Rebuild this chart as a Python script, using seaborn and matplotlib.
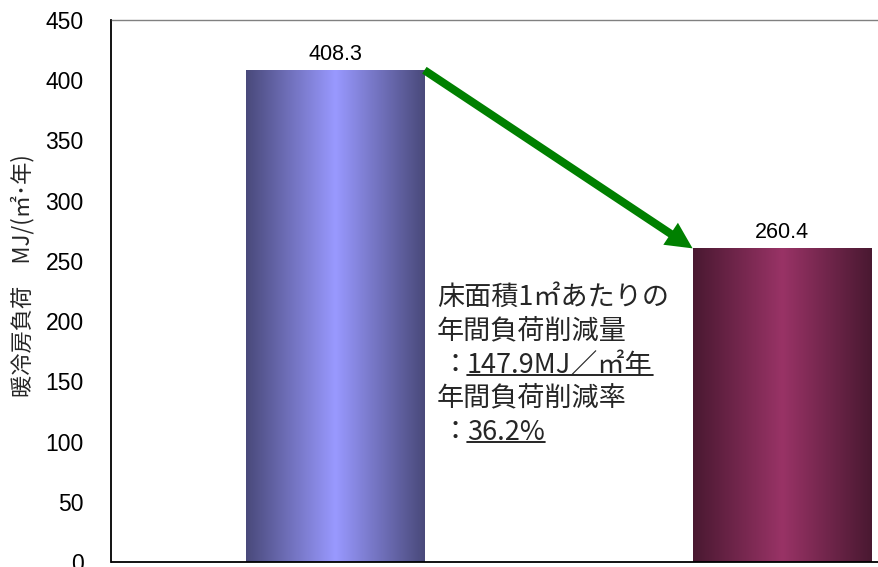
import numpy as np
import pandas as pd
import matplotlib
matplotlib.use("Agg")
import matplotlib.pyplot as plt
import seaborn as sns
from matplotlib.colors import to_rgb
from matplotlib.lines import Line2D

# Annual heating/cooling load per floor area
categories = ["改修前", "改修後"]
load_values = [408.3, 260.4]
bar_colors = ["#9999FF", "#993366"]
y_ticks = [0, 50, 100, 150, 200, 250, 300, 350, 400, 450]
y_label = "暖冷房負荷　MJ/(㎡･年)"

reduction = load_values[0] - load_values[1]
reduction_rate = reduction / load_values[0] * 100
note_head = ["床面積1㎡あたりの", "年間負荷削減量"]
note_amount = f"{reduction:.1f}MJ／㎡年"
note_rate_head = "年間負荷削減率"
note_rate = f"{reduction_rate:.1f}%"

sns.set_style("white")
plt.rcParams["font.family"] = ["Liberation Sans", "Noto Sans CJK JP", "DejaVu Sans"]
JP = ["Noto Sans CJK JP", "DejaVu Sans"]

W, H = 879, 567
fig = plt.figure(figsize=(W / 100, H / 100), dpi=100)
ax = fig.add_axes([111.5 / W, 5 / H, 894 / W, 542 / H])


def px(x, y):
    """Figure-fraction coordinates from pixel position measured from the top-left."""
    return x / W, 1 - y / H


df = pd.DataFrame({"category": categories, "load": load_values})
sns.barplot(data=df, x="category", y="load", hue="category", palette=bar_colors,
            order=categories, hue_order=categories, width=0.4, saturation=1,
            legend=False, ax=ax)

# Horizontal shaded fill: dark edges, light centre
u = np.linspace(0, 1, 256)
t = 1 - np.abs(2 * u - 1)
for patch, base in zip(ax.patches, bar_colors):
    base = np.array(to_rgb(base))
    edge = base * 0.48
    grad = edge[None, :] + (base - edge)[None, :] * t[:, None]
    img = grad[None, :, :]
    x0, y0 = patch.get_x(), patch.get_y()
    w, h = patch.get_width(), patch.get_height()
    im = ax.imshow(img, extent=[x0, x0 + w, y0, y0 + h], aspect="auto",
                   origin="lower", zorder=patch.get_zorder(), interpolation="bilinear")
    im.set_clip_path(patch)
    patch.set_facecolor("none")
    patch.set_edgecolor("none")

ax.set_xlim(-0.5, 1.5)
ax.set_ylim(0, 450)
ax.set_yticks(y_ticks)
ax.set_xticks([-0.5, 0.5, 1.5])
ax.set_xlabel("")
ax.tick_params(axis="x", direction="in", length=5.8, width=1, labelbottom=False, colors="black")
ax.tick_params(axis="y", direction="in", length=5.8, width=1, pad=20, labelsize=16.5,
               colors="black")

for side in ("left", "bottom"):
    ax.spines[side].set_color("black")
    ax.spines[side].set_linewidth(1.3)
for side in ("top", "right"):
    ax.spines[side].set_color("#808080")
    ax.spines[side].set_linewidth(1.0)

ax.set_ylabel(y_label, fontsize=16, family=JP, va="center")
ax.yaxis.set_label_coords((23 - 111.5) / 894, (562 - 276) / 542)

# Value labels above bars
for i, v in enumerate(load_values):
    ax.annotate(f"{v:.1f}", (i, v), xytext=(0, 7.5), textcoords="offset points",
                ha="center", va="baseline", fontsize=15.5, color="black")

# Trend arrow from the first bar to the second
ax.annotate("", xy=(0.8, load_values[1]), xytext=(0.2, load_values[0]),
            arrowprops=dict(arrowstyle="simple,head_length=1.9,head_width=1.9,tail_width=0.58",
                            mutation_scale=10, color="#008000", lw=0,
                            shrinkA=0, shrinkB=0))

# Reduction note
fs = 19.5
line_y = [297, 331, 365, 398, 432]
fig.text(*px(437, line_y[0]), note_head[0], fontsize=fs, family=JP, ha="left", va="center")
fig.text(*px(437, line_y[1]), note_head[1], fontsize=fs, family=JP, ha="left", va="center")
fig.text(*px(455, line_y[2]), "：", fontsize=fs, family=JP, ha="center", va="center")
t_amount = fig.text(*px(467, line_y[2]), note_amount, fontsize=fs, family=JP,
                    ha="left", va="center")
fig.text(*px(437, line_y[3]), note_rate_head, fontsize=fs, family=JP, ha="left", va="center")
fig.text(*px(455, line_y[4]), "：", fontsize=fs, family=JP, ha="center", va="center")
t_rate = fig.text(*px(467, line_y[4]), note_rate, fontsize=fs, family=JP,
                  ha="left", va="center")

fig.canvas.draw()
renderer = fig.canvas.get_renderer()
for txt, ly in ((t_amount, line_y[2]), (t_rate, line_y[4])):
    bb = txt.get_window_extent(renderer)
    yy = 1 - (ly + 10) / H
    fig.add_artist(Line2D([bb.x0 / W, bb.x1 / W], [yy, yy], transform=fig.transFigure,
                          color="black", lw=1.2))

fig.savefig("out.png", dpi=100)
